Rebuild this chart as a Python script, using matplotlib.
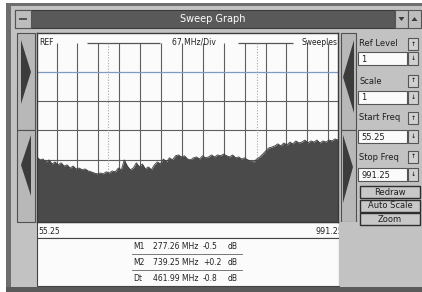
# sweep_graph.py
# Rebuild of the "Sweep Graph" window: spectrum plot plus the control panel

import numpy as np
import matplotlib
matplotlib.use("Agg")
import matplotlib.pyplot as plt
from matplotlib.patches import Rectangle, Polygon

# ---- data ----
start_freq = 55.25
stop_freq = 991.25

# sweep level in dB (0 dB = top grid line, 10 dB/div)
level_db = [-39.1, -40.1, -39.8, -40.8, -40.1, -41.5, -40.8, -41.8, -41.1, -42.2,
            -41.8, -42.9, -42.2, -43.2, -42.9, -43.5, -43.2, -43.9, -44.2, -44.6,
            -44.9, -44.6, -44.9, -44.2, -44.6, -43.9, -44.2, -42.9, -43.5, -40.1,
            -42.2, -43.5, -42.9, -41.1, -42.5, -41.5, -43.2, -42.5, -43.5, -41.8,
            -40.8, -41.5, -39.8, -40.8, -39.4, -40.1, -38.7, -38.4, -39.1, -38.7,
            -39.8, -40.1, -39.4, -39.1, -39.8, -38.7, -39.4, -39.1, -38.4, -39.1,
            -38.4, -38.7, -38.1, -38.7, -39.1, -38.4, -39.4, -39.1, -39.8, -39.4,
            -40.1, -40.5, -40.8, -39.8, -39.1, -38.1, -37.0, -36.0, -35.7, -35.3,
            -34.6, -35.3, -34.3, -35.0, -34.0, -34.6, -33.6, -34.3, -34.0, -33.3,
            -34.3, -33.6, -34.0, -33.3, -34.3, -33.6, -34.0, -33.3, -33.6, -32.9,
            -33.3]
freqs = np.linspace(start_freq, stop_freq, len(level_db))

grid_freqs = [116, 181, 246, 311, 376, 441, 506, 571, 636, 701, 766, 831, 896, 961]
grid_levels = [-20, -30, -40, -50]
ref_line_level = -10
marker_freqs = [277.26, 739.25]

readout_names = ["M1", "M2", "Dt"]
readout_freqs = [277.26, 739.25, 461.99]
readout_db = ["-0.5", "+0.2", "-0.8"]

panel_labels = ["Ref Level", "Scale", "Start Freq", "Stop Freq"]
panel_values = ["1", "1", "55.25", "991.25"]
button_labels = ["Redraw", "Auto Scale", "Zoom"]

# ---- colours ----
GRAY = "#c2c2c2"
DARK = "#4a4a4a"
FRAME = "#6e6e6e"
WHITE = "#fbfbfb"

fig = plt.figure(figsize=(4.22, 2.92), dpi=100)
fig.patch.set_facecolor("white")

# background axes in pixel coordinates for the window chrome
bg = fig.add_axes([0, 0, 1, 1])
bg.set_xlim(0, 422)
bg.set_ylim(292, 0)
bg.axis("off")


def box(x, y, w, h, face=GRAY, edge="#555555", lw=0.8, z=2):
    bg.add_patch(Rectangle((x, y), w, h, facecolor=face, edgecolor=edge, lw=lw, zorder=z))


def tri(pts, z=3):
    bg.add_patch(Polygon(pts, closed=True, facecolor="#3c3c3c", edgecolor="none", zorder=z))


# outer frame and window body
box(6, 3, 416, 289, face=FRAME, edge="none", lw=0, z=1)
box(11, 6, 411, 281, face=GRAY, edge="none", lw=0, z=1)

# title bar
box(15, 10, 380, 18, face="#595959", edge="#3a3a3a", z=2)
box(15, 10, 16, 18, face="#bdbdbd", edge="#555555", z=3)
box(19, 18, 8, 2, face="#555555", edge="none", lw=0, z=4)
bg.text(213, 19.5, "Sweep Graph", color="white", fontsize=7, ha="center", va="center",
        zorder=4)
box(395, 10, 13, 18, face="#bdbdbd", edge="#555555", z=3)
box(408, 10, 13, 18, face="#bdbdbd", edge="#555555", z=3)
tri([(398.5, 17), (404.5, 17), (401.5, 21)], z=4)
tri([(411.5, 21), (417.5, 21), (414.5, 17)], z=4)

# left scroll panel
box(17, 33, 18, 97, face="#b8b8b8", edge="#505050", z=2)
box(17, 130, 18, 92, face="#b8b8b8", edge="#505050", z=2)
tri([(21, 40), (21, 104), (31, 72)])
tri([(31, 135), (31, 196), (21, 165)])

# right scroll panel
box(341, 33, 15, 97, face="#b8b8b8", edge="#505050", z=2)
box(341, 130, 15, 92, face="#b8b8b8", edge="#505050", z=2)
tri([(354, 40), (354, 113), (343, 77)])
tri([(343, 135), (343, 203), (353, 167)])

# frequency strip under the plot
box(37, 222, 302, 16, face=WHITE, edge="#444444", z=2)
bg.text(38, 231, "55.25", fontsize=5.5, ha="left", va="center", color="#222222", zorder=3)
bg.text(316, 231, "991.25", fontsize=5.8, ha="left", va="center", color="#222222", zorder=3)
box(339, 222, 82, 64, face=GRAY, edge="none", lw=0, z=4)

# marker readout
box(37, 238, 302, 48, face=WHITE, edge="#444444", z=2)
row_y = [246.5, 262.5, 278.5]
for name, f, d, y in zip(readout_names, readout_freqs, readout_db, row_y):
    bg.text(133, y, name, fontsize=5.5, va="center", color="#222222", zorder=3)
    bg.text(153, y, f"{f:.2f} MHz", fontsize=5.5, va="center", color="#222222", zorder=3)
    bg.text(203, y, d, fontsize=5.5, va="center", color="#222222", zorder=3)
    bg.text(228, y, "dB", fontsize=5.5, va="center", color="#222222", zorder=3)
for y in [253.5, 269.5]:
    bg.plot([132, 242], [y, y], color="#777777", lw=0.7, zorder=3)

# control panel on the right
label_y = [44, 81, 118, 157]
field_y = [52, 91, 130, 168]
for lab, val, ly, fy in zip(panel_labels, panel_values, label_y, field_y):
    bg.text(359, ly, lab, fontsize=6, va="center", color="#1e1e1e", zorder=5)
    box(408, ly - 6, 10, 12, face="#d0d0d0", edge="#555555", z=5)
    box(358, fy, 49, 13, face=WHITE, edge="#555555", z=5)
    box(408, fy, 10, 13, face="#d0d0d0", edge="#555555", z=5)
    bg.text(361, fy + 7, val, fontsize=6, va="center", color="#1e1e1e", zorder=6)
    bg.text(413, ly, "\u2191", fontsize=4.5, ha="center", va="center", zorder=6)
    bg.text(413, fy + 6.5, "\u2193", fontsize=4.5, ha="center", va="center", zorder=6)

button_y = [186, 199.5, 213]
for lab, by in zip(button_labels, button_y):
    box(360, by, 60, 12, face="#c8c8c8", edge="#2e2e2e", lw=1.0, z=5)
    bg.text(390, by + 6.3, lab, fontsize=6, ha="center", va="center", color="#1e1e1e", zorder=6)

# bottom dark band
box(6, 287, 416, 5, face="#5a5a5a", edge="none", lw=0, z=1)

# ---- sweep plot ----
ax = fig.add_axes([37 / 422, 1 - 222 / 292, (338 - 37) / 422, (222 - 33) / 292])
ax.set_facecolor(WHITE)
ax.set_xlim(start_freq, stop_freq)
ax.set_ylim(-61.4, 3.4)
ax.set_xticks([])
ax.set_yticks([])
for s in ax.spines.values():
    s.set_color("#3a3a3a")
    s.set_linewidth(1.0)

ax.vlines(grid_freqs, -70, 0, color="#5e5e5e", lw=0.8, zorder=1)
ax.hlines(grid_levels, start_freq, stop_freq, color="#5e5e5e", lw=0.8, zorder=1)
ax.hlines(ref_line_level, start_freq, stop_freq, color="#7d9cc4", lw=0.9, zorder=1)
ax.hlines([0, 0], [210, 680], [438, 851], color="#555555", lw=0.9, zorder=1)
ax.vlines(marker_freqs, -70, 0, color="#a8a8a8", lw=0.8, linestyles=(0, (1, 1.5)), zorder=1)

ax.fill_between(freqs, -70, level_db, color=DARK, lw=0, zorder=2)
ax.plot(freqs, level_db, color="#3a3a3a", lw=0.6, zorder=3)

ax.text(0.007, 0.975, "REF", transform=ax.transAxes, fontsize=5.5, va="top", color="#222222")
ax.text(0.52, 0.975, "67 MHz/Div", transform=ax.transAxes, fontsize=5.5, va="top",
        ha="center", color="#222222")
ax.text(0.997, 0.975, "Sweeples", transform=ax.transAxes, fontsize=5.5, va="top",
        ha="right", color="#222222")

fig.savefig("out.png", dpi=100)
